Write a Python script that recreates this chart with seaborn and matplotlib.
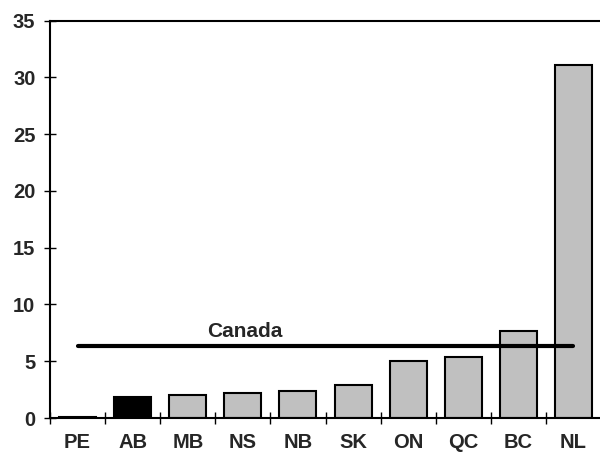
import matplotlib
matplotlib.use("Agg")
import matplotlib.pyplot as plt
import seaborn as sns
import pandas as pd

categories = ["PE", "AB", "MB", "NS", "NB", "SK", "ON", "QC", "BC", "NL"]
values = [0.12, 1.88, 2.03, 2.2, 2.38, 2.91, 5.03, 5.38, 7.68, 31.1]
colors = ["#c0c0c0", "#000000"] + ["#c0c0c0"] * 8
canada_value = 6.3
canada_label = "Canada"
yticks = [0, 5, 10, 15, 20, 25, 30, 35]

sns.set_style("white")
plt.rcParams["font.family"] = ["Liberation Sans", "DejaVu Sans"]

df = pd.DataFrame({"prov": categories, "val": values})

fig = plt.figure(figsize=(6.0, 4.59), dpi=100)
ax = fig.add_axes([50 / 600, 41 / 459, 551 / 600, 397.5 / 459])

sns.barplot(data=df, x="prov", y="val", hue="prov", palette=colors,
            legend=False, width=0.67, edgecolor="black", linewidth=1.5,
            saturation=1, ax=ax)

ax.plot([0, len(categories) - 1], [canada_value, canada_value],
        color="black", linewidth=3, solid_capstyle="round", zorder=5)
ax.text(3.04, canada_value + 0.5, canada_label, ha="center", va="bottom",
        fontsize=15, fontweight="bold")

ax.set_xlim(-0.5, len(categories) - 0.5)
ax.set_ylim(0, 35)
ax.set_yticks(yticks)
ax.set_yticklabels([str(t) for t in yticks], fontsize=14.5, fontweight="bold")
ax.tick_params(axis="y", direction="inout", length=9, width=1, color="black", pad=6, left=True)

ax.set_xticks(range(len(categories)))
ax.set_xticklabels(categories, fontsize=14.5, fontweight="bold")
ax.tick_params(axis="x", which="major", length=0, pad=11)
ax.set_xticks([i - 0.5 for i in range(len(categories) + 1)], minor=True)
ax.tick_params(axis="x", which="minor", direction="inout", length=8, width=1, color="black", bottom=True)

ax.set_xlabel("")
ax.set_ylabel("")
for side in ["left", "bottom", "top"]:
    ax.spines[side].set_visible(True)
    ax.spines[side].set_color("black")
    ax.spines[side].set_linewidth(1.5)
ax.spines["right"].set_visible(False)

fig.savefig("out.png", dpi=100)
